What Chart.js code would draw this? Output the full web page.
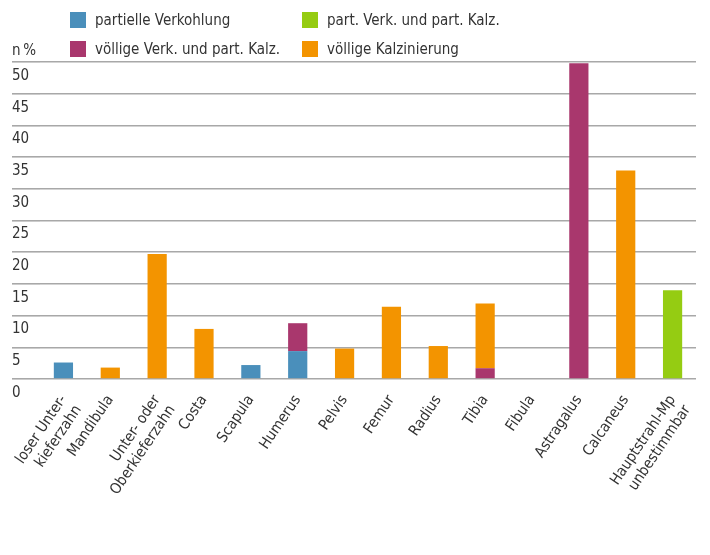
<!DOCTYPE html>
<html>
<head>
<meta charset="utf-8">
<script src="https://cdn.jsdelivr.net/npm/chart.js@4.4.1/dist/chart.umd.min.js"></script>
<style>
  body { margin: 0; background: #fff; }
  #wrap { position: relative; width: 710px; height: 555px; font-family: "Liberation Sans Narrow", "DejaVu Sans Condensed", "Roboto", sans-serif; color: #333; }
  #unit { position: absolute; left: 12px; top: 40px; font-size: 15px; line-height: 20px; }
  #legend { position: absolute; left: 70px; top: 10px; display: grid; grid-template-columns: 232px auto; grid-auto-rows: 29px; font-size: 15px; }
  #legend .item { display: flex; align-items: center; height: 20px; }
  #legend .box { width: 16px; height: 16px; margin-right: 9px; }
</style>
</head>
<body>
<div id="wrap">
  <canvas id="myChart" width="710" height="555"></canvas>
  <div id="unit">n&#8201;%</div>
  <div id="legend"></div>
</div>
<script>
/* global Chart */
const categories = [
  ["loser Unter-", "kieferzahn"], "Mandibula", ["Unter- oder", "Oberkieferzahn"], "Costa", "Scapula",
  "Humerus", "Pelvis", "Femur", "Radius", "Tibia", "Fibula", "Astragalus", "Calcaneus",
  ["Hauptstrahl-Mp", "unbestimmbar"]
];
// n% per fragment group
const partielleVerkohlung = [2.6, null, null, null, 2.2, 4.4, null, null, null, null, null, null, null, null];
const partVerkPartKalz = [null, null, null, null, null, null, null, null, null, null, null, null, null, 14.0];
const voelligeVerkPartKalz = [null, null, null, null, null, 4.4, null, null, null, 1.7, null, 49.8, null, null];
const voelligeKalzinierung = [null, 1.8, 19.7, 7.9, null, null, 4.8, 11.4, 5.2, 10.2, null, null, 32.9, null];
const yTicks = [0, 5, 10, 15, 20, 25, 30, 35, 40, 45, 50];

const font = "'Liberation Sans Narrow', 'DejaVu Sans Condensed', Roboto, sans-serif";

var ctx = document.getElementById("myChart").getContext("2d");
var myChart = new Chart(ctx, {
  type: "bar",
  data: {
    labels: categories,
    datasets: [
      { label: "partielle Verkohlung", data: partielleVerkohlung, backgroundColor: "#4a8fbb" },
      { label: "part. Verk. und part. Kalz.", data: partVerkPartKalz, backgroundColor: "#95cc12" },
      { label: "völlige Verk. und part. Kalz.", data: voelligeVerkPartKalz, backgroundColor: "#a9376d" },
      { label: "völlige Kalzinierung", data: voelligeKalzinierung, backgroundColor: "#f39400" },
    ],
  },
  options: {
    responsive: false,
    animation: false,
    layout: { padding: { top: 62, left: 12, right: 14, bottom: 0 } },
    datasets: { bar: { categoryPercentage: 1, barPercentage: 0.41 } },
    plugins: { legend: { display: false }, tooltip: { enabled: false } },
    scales: {
      x: {
        stacked: true,
        grid: { display: false, drawTicks: false },
        border: { display: false },
        ticks: { color: "#333", font: { family: font, size: 15 }, minRotation: 56, maxRotation: 56, padding: 13, autoSkip: false },
        afterFit: function (scale) {
          scale.height = 176;
          scale.paddingLeft = 0;
          scale.paddingRight = 0;
        },
      },
      y: {
        stacked: true,
        min: 0,
        max: 50,
        afterBuildTicks: function (scale) { scale.ticks = yTicks.map((v) => ({ value: v })); },
        grid: { color: "#a8a8a8", lineWidth: 1.6, tickLength: 28, tickColor: "#a8a8a8" },
        border: { display: false },
        ticks: { color: "#333", font: { family: font, size: 15 }, crossAlign: "far", labelOffset: 14, padding: 0 },
        afterFit: function (scale) { scale.width = 28; },
      },
    },
  },
});

// legend, two columns like the original
var legend = document.getElementById("legend");
myChart.data.datasets.forEach(function (ds) {
  var item = document.createElement("div");
  item.className = "item";
  var box = document.createElement("span");
  box.className = "box";
  box.style.background = ds.backgroundColor;
  item.appendChild(box);
  item.appendChild(document.createTextNode(ds.label));
  legend.appendChild(item);
});
</script>
</body>
</html>
